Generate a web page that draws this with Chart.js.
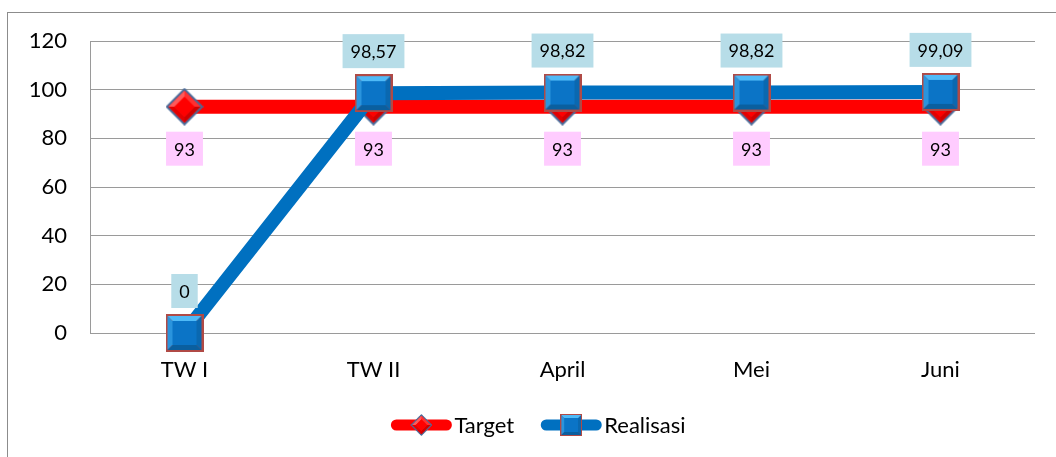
<!DOCTYPE html>
<html>
<head>
<meta charset="utf-8">
<script src="https://cdn.jsdelivr.net/npm/chart.js@4/dist/chart.umd.min.js"></script>
<style>
  html, body { margin: 0; padding: 0; background: #fff; }
  #wrap { width: 1056px; height: 457px; }
</style>
</head>
<body>
<div id="wrap"><canvas id="mycanvas" width="1056" height="457"></canvas></div>
<script>
// data
var categories = ['TW I', 'TW II', 'April', 'Mei', 'Juni'];
var targetValues = [93, 93, 93, 93, 93];
var realisasiValues = [0, 98.57, 98.82, 98.82, 99.09];
var yMin = 0, yMax = 120, yStep = 20;

var FONT = 'Lato, "Open Sans", sans-serif';

// bevelled square marker (blue with red-brown edge)
function makeSquare(size) {
    var c = document.createElement('canvas');
    c.width = size; c.height = size;
    var g = c.getContext('2d');
    g.fillStyle = '#b04a46';
    g.fillRect(0, 0, size, size);
    var o = 2, b = 5, s = size - 2 * o;
    function quad(pts, col) {
        g.fillStyle = col;
        g.beginPath();
        g.moveTo(pts[0][0], pts[0][1]);
        for (var k = 1; k < pts.length; k++) g.lineTo(pts[k][0], pts[k][1]);
        g.closePath();
        g.fill();
    }
    var x0 = o, y0 = o, x1 = o + s, y1 = o + s;
    quad([[x0, y0], [x1, y0], [x1 - b, y0 + b], [x0 + b, y0 + b]], '#4fbaf7');
    quad([[x0, y0], [x0 + b, y0 + b], [x0 + b, y1 - b], [x0, y1]], '#2a94dd');
    quad([[x1, y0], [x1, y1], [x1 - b, y1 - b], [x1 - b, y0 + b]], '#0a68b0');
    quad([[x0, y1], [x1, y1], [x1 - b, y1 - b], [x0 + b, y1 - b]], '#0a5f9f');
    g.fillStyle = '#0b74c6';
    g.fillRect(x0 + b, y0 + b, s - 2 * b, s - 2 * b);
    return c;
}

// bevelled diamond marker (red with blue-grey edge)
function makeDiamond(size) {
    var c = document.createElement('canvas');
    c.width = size; c.height = size;
    var g = c.getContext('2d');
    var h = size / 2;
    function poly(pts, col) {
        g.fillStyle = col;
        g.beginPath();
        g.moveTo(pts[0][0], pts[0][1]);
        for (var k = 1; k < pts.length; k++) g.lineTo(pts[k][0], pts[k][1]);
        g.closePath();
        g.fill();
    }
    poly([[h, 0], [size, h], [h, size], [0, h]], '#4a6a98');
    var r = h - 3, ri = r - 6;
    poly([[h, h - r], [h + r, h], [h, h + r], [h - r, h]], '#ff1a1a');
    poly([[h, h - r], [h - r, h], [h - ri, h], [h, h - ri]], '#ff5a5a');
    poly([[h, h - r], [h + r, h], [h + ri, h], [h, h - ri]], '#ff3030');
    poly([[h + r, h], [h, h + r], [h, h + ri], [h + ri, h]], '#d00000');
    poly([[h - r, h], [h, h + r], [h, h + ri], [h - ri, h]], '#e40000');
    poly([[h, h - ri], [h + ri, h], [h, h + ri], [h - ri, h]], '#ff0000');
    return c;
}

var squareImg = makeSquare(38);
var diamondImg = makeDiamond(38);

function fmt(v) {
    return String(v).replace('.', ',');
}

var frame = {
    id: 'frame',
    beforeDraw: function(chart) {
        var ctx = chart.ctx;
        ctx.save();
        ctx.fillStyle = '#fff';
        ctx.fillRect(0, 0, chart.width, chart.height);
        ctx.strokeStyle = '#8c8c8c';
        ctx.lineWidth = 1;
        ctx.strokeRect(7.5, 12.5, chart.width + 20, chart.height + 20);
        ctx.restore();
    }
};

var valueLabels = {
    id: 'valueLabels',
    afterDatasetsDraw: function(chart) {
        var ctx = chart.ctx;
        ctx.save();
        ctx.font = '18px ' + FONT;
        ctx.textAlign = 'center';
        ctx.textBaseline = 'middle';
        chart.data.datasets.forEach(function(ds, i) {
            var meta = chart.getDatasetMeta(i);
            meta.data.forEach(function(pt, j) {
                var txt = fmt(ds.data[j]);
                var w = ctx.measureText(txt).width + 16;
                var h = 34;
                var top = ds.labelPos === 'below' ? pt.y + 25 : pt.y - 25 - h;
                ctx.fillStyle = ds.labelBg;
                ctx.fillRect(pt.x - w / 2, top, w, h);
                ctx.fillStyle = '#000';
                ctx.fillText(txt, pt.x, top + h / 2 + 1);
            });
        });
        ctx.restore();
    }
};

var lineLegend = {
    id: 'lineLegend',
    afterDraw: function(chart) {
        var ctx = chart.ctx;
        ctx.save();
        ctx.font = '22px ' + FONT;
        ctx.textBaseline = 'middle';
        var items = chart.data.datasets.map(function(ds) {
            return { ds: ds, tw: ctx.measureText(ds.label).width };
        });
        var lineLen = 62, gap = 2, between = 26;
        var total = 0;
        items.forEach(function(it, k) {
            total += lineLen + gap + it.tw + (k ? between : 0);
        });
        var x = 538 - total / 2;
        var y = 425;
        items.forEach(function(it) {
            ctx.strokeStyle = it.ds.borderColor;
            ctx.lineWidth = 11;
            ctx.lineCap = 'round';
            ctx.beginPath();
            ctx.moveTo(x + 6, y);
            ctx.lineTo(x + lineLen - 6, y);
            ctx.stroke();
            ctx.drawImage(it.ds.pointStyle, x + lineLen / 2 - 11, y - 11, 22, 22);
            ctx.fillStyle = '#000';
            ctx.fillText(it.ds.label, x + lineLen + gap, y + 1);
            x += lineLen + gap + it.tw + between;
        });
        ctx.restore();
    }
};

var ctx = document.getElementById('mycanvas');

var lineGraph = new Chart(ctx, {
    type: 'line',
    data: {
        labels: categories,
        datasets: [
            {
                label: 'Target',
                data: targetValues,
                borderColor: '#ff0000',
                backgroundColor: '#ff0000',
                borderWidth: 14,
                pointStyle: diamondImg,
                pointRadius: 2,
                pointBorderWidth: 0,
                order: 2,
                clip: false,
                labelPos: 'below',
                labelBg: '#ffccff'
            },
            {
                label: 'Realisasi',
                data: realisasiValues,
                borderColor: '#0070c0',
                backgroundColor: '#0070c0',
                borderWidth: 14,
                pointStyle: squareImg,
                pointRadius: 2,
                pointBorderWidth: 0,
                order: 1,
                clip: false,
                labelPos: 'above',
                labelBg: '#b7dde8'
            }
        ]
    },
    options: {
        responsive: false,
        animation: false,
        events: [],
        layout: { padding: { top: 41, right: 21, left: 0, bottom: 0 } },
        plugins: {
            legend: { display: false },
            tooltip: { enabled: false }
        },
        scales: {
            x: {
                offset: true,
                grid: { display: false, drawTicks: false, offset: true },
                border: { display: false },
                ticks: { color: '#000', font: { family: FONT, size: 22 }, padding: 24 },
                afterFit: function(s) { s.height = 124; s.paddingRight = 0; s.paddingLeft = 0; }
            },
            y: {
                min: yMin,
                max: yMax,
                grid: { color: '#9a9a9a', lineWidth: 1, drawTicks: false },
                border: { display: true, color: '#9a9a9a', width: 1 },
                ticks: { stepSize: yStep, color: '#000', font: { family: FONT, size: 22 }, padding: 23 },
                afterFit: function(s) { s.width = 90; }
            }
        }
    },
    plugins: [frame, valueLabels, lineLegend]
});
</script>
</body>
</html>
